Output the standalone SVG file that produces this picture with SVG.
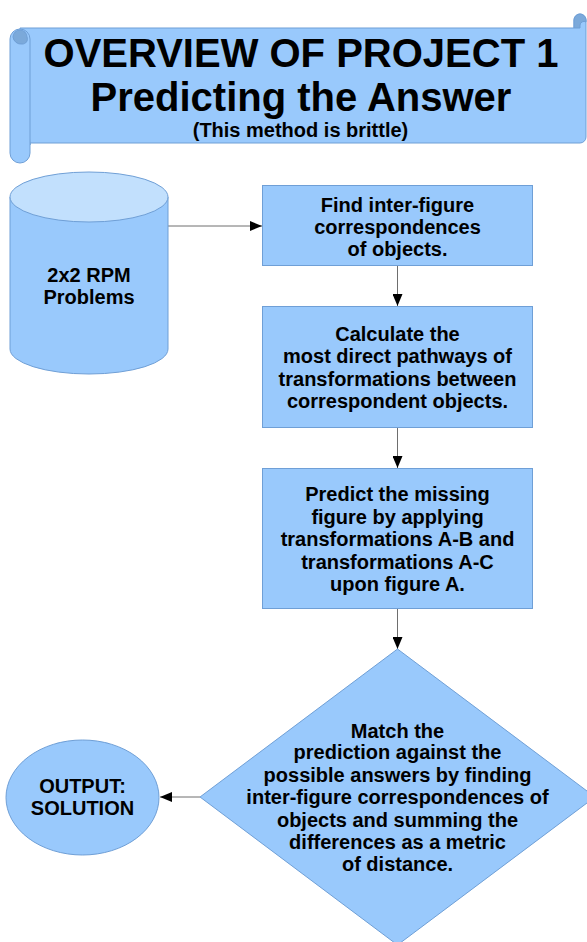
<svg xmlns="http://www.w3.org/2000/svg" width="587" height="942" viewBox="0 0 587 942">
<defs>
<style>
.shape{fill:#99c9fc;stroke:#6f9fd6;stroke-width:1}
.t{font-family:"Liberation Sans",Arial,sans-serif;font-weight:bold;fill:#000;text-anchor:middle}
.b{font-size:20px}
.conn{stroke:#6e6e6e;stroke-width:1;fill:none}
</style>
<marker id="ah" viewBox="0 0 12 10" refX="12" refY="5" markerWidth="12" markerHeight="10" markerUnits="userSpaceOnUse" orient="auto">
<path d="M0,0 L12,5 L0,10 z" fill="#000"/>
</marker>
</defs>
<rect width="587" height="942" fill="#fff"/>

<g id="title">
<path class="shape" d="M20,28 H574 V20 a6,6 0 0 1 12,0 V137 a6,6 0 0 1 -6,6 H30 V145 Z"/>
<path d="M574,28 V20 a6,6 0 0 1 12,0 v2 a4,4 0 0 0 -6,3 v3 z" fill="#7ba9da" stroke="#6f9fd6" stroke-width="1"/>
<rect class="shape" x="10" y="29" width="20" height="134" rx="10"/>
<path d="M13,37 a7,7 0 0 1 14,0 a5,5 0 0 1 -5,7 a8,8 0 0 1 -9,-7 z" fill="#7ba9da" stroke="#6f9fd6" stroke-width="1"/>
<text class="t" x="301" y="67" font-size="40">OVERVIEW OF PROJECT 1</text>
<text class="t" x="301" y="111" font-size="40">Predicting the Answer</text>
<text class="t" x="300.5" y="137" font-size="20">(This method is brittle)</text>
</g>

<g id="connectors">
<line class="conn" x1="168" y1="226" x2="262" y2="226" marker-end="url(#ah)"/>
<line class="conn" x1="397.5" y1="266" x2="397.5" y2="306" marker-end="url(#ah)"/>
<line class="conn" x1="397.5" y1="428" x2="397.5" y2="468" marker-end="url(#ah)"/>
<line class="conn" x1="397.5" y1="608" x2="397.5" y2="649" marker-end="url(#ah)"/>
<line class="conn" x1="200" y1="797" x2="160" y2="797" marker-end="url(#ah)"/>
</g>

<g id="data">
<path class="shape" d="M10,197 V349 A79,25 0 0 0 168,349 V197"/>
<ellipse cx="89" cy="197" rx="79" ry="25" fill="#c2e0fd" stroke="#6f9fd6" stroke-width="1"/>
<text class="t b" x="89" y="282">2x2 RPM</text>
<text class="t b" x="89" y="304">Problems</text>
</g>

<g id="step1">
<rect class="shape" x="262.5" y="185.5" width="270" height="80"/>
<text class="t b" x="397.5" y="212">Find inter-figure</text>
<text class="t b" x="397.5" y="234">correspondences</text>
<text class="t b" x="397.5" y="256">of objects.</text>
</g>

<g id="step2">
<rect class="shape" x="262.5" y="306.5" width="270" height="121"/>
<text class="t b" x="397.5" y="341">Calculate the</text>
<text class="t b" x="397.5" y="363">most direct pathways of</text>
<text class="t b" x="397.5" y="386">transformations between</text>
<text class="t b" x="397.5" y="408">correspondent objects.</text>
</g>

<g id="step3">
<rect class="shape" x="262.5" y="468.5" width="270" height="140"/>
<text class="t b" x="397.5" y="501">Predict the missing</text>
<text class="t b" x="397.5" y="524">figure by applying</text>
<text class="t b" x="397.5" y="546">transformations A-B and</text>
<text class="t b" x="397.5" y="569">transformations A-C</text>
<text class="t b" x="397.5" y="591">upon figure A.</text>
</g>

<g id="match">
<path class="shape" d="M397.5,649 L595,797 L397.5,945 L200,797 Z"/>
<text class="t b" x="397.5" y="738">Match the</text>
<text class="t b" x="397.5" y="759">prediction against the</text>
<text class="t b" x="397.5" y="782">possible answers by finding</text>
<text class="t b" x="397.5" y="804">inter-figure correspondences of</text>
<text class="t b" x="397.5" y="827">objects and summing the</text>
<text class="t b" x="397.5" y="849">differences as a metric</text>
<text class="t b" x="397.5" y="871">of distance.</text>
</g>

<g id="output">
<ellipse class="shape" cx="82.5" cy="797.5" rx="76.5" ry="57.5"/>
<text class="t b" x="82.5" y="793">OUTPUT:</text>
<text class="t b" x="82.5" y="815">SOLUTION</text>
</g>
</svg>
